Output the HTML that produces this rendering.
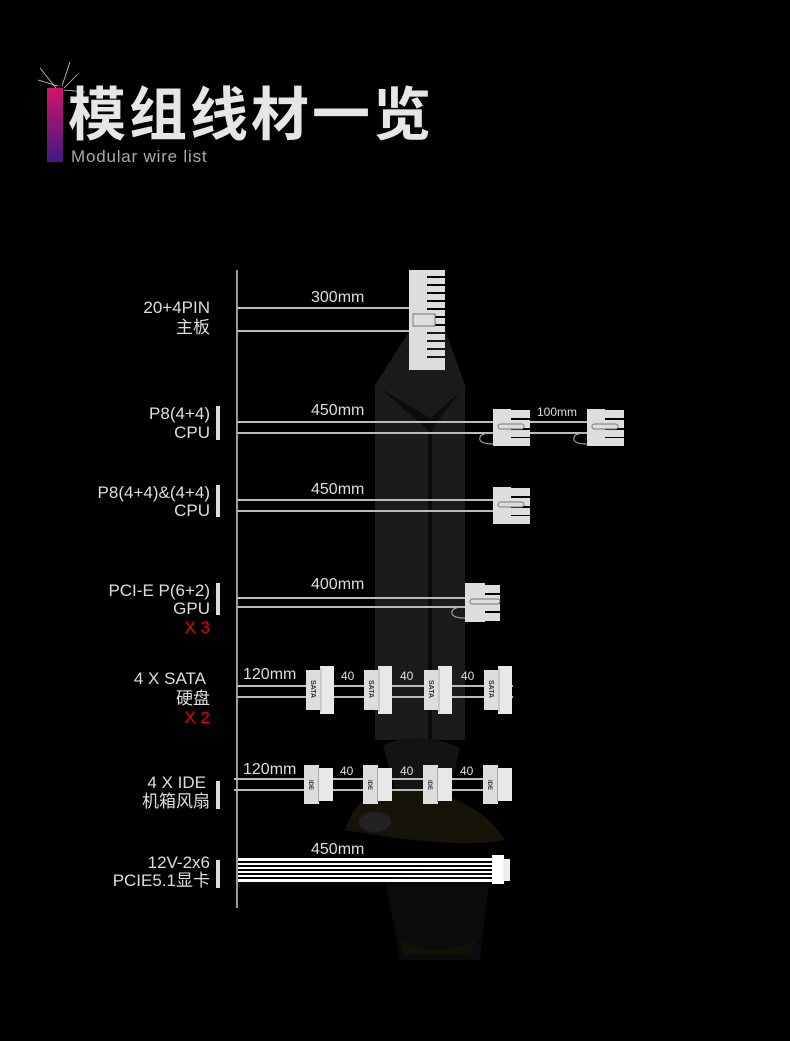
<!DOCTYPE html>
<html><head><meta charset="utf-8"><style>
body{margin:0;background:#000;}
svg{display:block}
text{font-family:"Liberation Sans","Noto Sans CJK SC",sans-serif;}
</style></head><body>
<svg width="790" height="1041" viewBox="0 0 790 1041" xmlns="http://www.w3.org/2000/svg">
<defs>
<linearGradient id="g" x1="0" y1="0" x2="0" y2="1"><stop offset="0" stop-color="#d0146c"/><stop offset="1" stop-color="#3f1a80"/></linearGradient>
<g id="sata"><rect x="0" y="4" width="16" height="40" fill="#ddd"/><rect x="14" y="0" width="14" height="48" fill="#e8e8e8"/><line x1="15" y1="2" x2="15" y2="46" stroke="#aaa"/><text x="0" y="0" font-size="7" font-weight="bold" fill="#333" transform="translate(5,14) rotate(90)">SATA</text></g>
<g id="ide"><rect x="0" y="0" width="15" height="39" fill="#ddd"/><rect x="14" y="3" width="15" height="33" fill="#e8e8e8"/><line x1="14.5" y1="2" x2="14.5" y2="37" stroke="#aaa"/><text x="0" y="0" font-size="6" font-weight="bold" fill="#333" transform="translate(5,15) rotate(90)">IDE</text></g>
<g id="cpu"><rect x="0" y="0" width="18" height="37" fill="#ddd"/><rect x="18" y="1" width="19" height="8" fill="#ddd"/><rect x="18" y="11" width="19" height="8" fill="#ddd"/><rect x="18" y="21" width="19" height="7" fill="#ddd"/><rect x="18" y="29" width="19" height="8" fill="#ddd"/><rect x="5" y="15" width="26" height="5" rx="2.5" fill="#ddd" stroke="#777"/></g>
</defs>
<!-- background silhouette -->
<polygon points="375,385 410,330 445,330 465,385 465,740 375,740" fill="#1b1b1b"/>
<polygon points="380,388 430,418 460,392 430,432" fill="#0c0c0c"/>
<rect x="428" y="430" width="4" height="310" fill="#0a0a0a"/>
<path d="M383,745 Q420,730 460,748 L450,790 L395,790 Z" fill="#131313"/>
<path d="M345,830 Q360,780 420,790 Q480,800 505,840 Q460,850 345,830Z" fill="#161409"/>
<ellipse cx="375" cy="822" rx="16" ry="10" fill="#222"/>
<path d="M385,880 Q430,860 490,875 L480,960 L400,960 Z" fill="#0b0b0b"/>
<path d="M400,940 Q440,960 475,940 L470,955 L405,955 Z" fill="#141208"/>

<!-- header -->
<rect x="47" y="88" width="16" height="74" fill="url(#g)"/>
<g stroke="#ccc" stroke-width="0.8" fill="none"><path d="M56,88 L40,68 M58,86 L38,80 M62,86 L70,62 M64,88 L78,74 M64,90 L85,92"/></g>
<text x="68" y="135" font-size="58" font-weight="bold" fill="#e6e6e6" letter-spacing="3">模组线材一览</text>
<text x="71" y="162" font-size="17" fill="#aaa" letter-spacing="0.8">Modular wire list</text>

<!-- vertical line -->
<line x1="237" y1="270" x2="237" y2="908" stroke="#999" stroke-width="2"/>

<g font-size="17" fill="#ddd" text-anchor="end">
<text x="210" y="313">20+4PIN</text><text x="210" y="333">主板</text>
<text x="210" y="419">P8(4+4)</text><text x="210" y="438">CPU</text>
<text x="210" y="498">P8(4+4)&amp;(4+4)</text><text x="210" y="516">CPU</text>
<text x="210" y="596">PCI-E P(6+2)</text><text x="210" y="614">GPU</text>
<text x="210" y="633" fill="#e00">X 3</text>
<text x="206" y="684">4 X SATA</text><text x="210" y="704">硬盘</text>
<text x="210" y="723" fill="#e00">X 2</text>
<text x="206" y="788">4 X IDE</text><text x="210" y="807">机箱风扇</text>
<text x="210" y="868">12V-2x6</text><text x="210" y="886">PCIE5.1显卡</text>
</g>
<g fill="#ddd">
<rect x="216" y="406" width="4" height="34"/><rect x="216" y="485" width="4" height="32"/>
<rect x="216" y="583" width="4" height="32"/><rect x="216" y="781" width="4" height="28"/>
<rect x="216" y="860" width="4" height="28"/>
</g>

<g stroke="#bbb" stroke-width="2">
<line x1="237" y1="308" x2="409" y2="308"/><line x1="237" y1="331" x2="409" y2="331"/>
<line x1="237" y1="422" x2="493" y2="422"/><line x1="237" y1="433" x2="493" y2="433"/>
<line x1="530" y1="422" x2="587" y2="422"/><line x1="530" y1="433" x2="587" y2="433"/>
<line x1="237" y1="500" x2="493" y2="500"/><line x1="237" y1="511" x2="493" y2="511"/>
<line x1="237" y1="598" x2="465" y2="598"/><line x1="237" y1="607" x2="465" y2="607"/>
<line x1="237" y1="686" x2="513" y2="686"/><line x1="237" y1="697" x2="513" y2="697"/>
<line x1="234" y1="779" x2="510" y2="779"/><line x1="234" y1="790" x2="510" y2="790"/>
</g>
<g fill="none" stroke="#aaa" stroke-width="1"><path d="M493,433 Q478,433 480,440 Q482,444 493,444"/><path d="M587,433 Q572,433 574,440 Q576,444 587,444"/><path d="M465,607 Q450,607 452,614 Q454,618 465,618"/></g>

<!-- 24pin -->
<rect x="409" y="270" width="18" height="100" fill="#ddd"/>
<g fill="#ddd"><rect x="427" y="270" width="18" height="6"/><rect x="427" y="278" width="18" height="6"/><rect x="427" y="286" width="18" height="6"/><rect x="427" y="294" width="18" height="6"/><rect x="427" y="302" width="18" height="6"/><rect x="427" y="310" width="18" height="6"/><rect x="427" y="318" width="18" height="6"/><rect x="427" y="326" width="18" height="6"/><rect x="427" y="334" width="18" height="6"/><rect x="427" y="342" width="18" height="6"/><rect x="427" y="350" width="18" height="6"/><rect x="427" y="358" width="18" height="6"/><rect x="427" y="364" width="18" height="6"/></g>
<rect x="413" y="314" width="22" height="12" fill="#ddd" stroke="#777"/>

<use href="#cpu" x="493" y="409"/><use href="#cpu" x="587" y="409"/>
<use href="#cpu" x="493" y="487"/>
<g><rect x="465" y="583" width="20" height="39" fill="#ddd"/><rect x="485" y="585" width="15" height="8" fill="#ddd"/><rect x="485" y="595" width="15" height="8" fill="#ddd"/><rect x="485" y="604" width="15" height="7" fill="#ddd"/><rect x="485" y="613" width="15" height="8" fill="#ddd"/><rect x="470" y="599" width="30" height="5" rx="2.5" fill="#ddd" stroke="#777"/></g>

<use href="#sata" x="306" y="666"/><use href="#sata" x="364" y="666"/><use href="#sata" x="424" y="666"/><use href="#sata" x="484" y="666"/>
<use href="#ide" x="304" y="765"/><use href="#ide" x="363" y="765"/><use href="#ide" x="423" y="765"/><use href="#ide" x="483" y="765"/>

<!-- 12v -->
<g fill="#fff"><rect x="238" y="858" width="256" height="3"/><rect x="238" y="863" width="256" height="2"/><rect x="238" y="867" width="256" height="2"/><rect x="238" y="871" width="256" height="2"/><rect x="238" y="875" width="256" height="2"/><rect x="238" y="879" width="256" height="3"/></g>
<rect x="492" y="855" width="12" height="29" fill="#fff"/><rect x="503" y="859" width="7" height="22" fill="#eee"/>

<g font-size="16" fill="#ddd">
<text x="311" y="302">300mm</text><text x="311" y="415">450mm</text><text x="537" y="416" font-size="12">100mm</text>
<text x="311" y="494">450mm</text><text x="311" y="589">400mm</text>
<text x="243" y="679">120mm</text><text x="341" y="680" font-size="12">40</text><text x="400" y="680" font-size="12">40</text><text x="461" y="680" font-size="12">40</text>
<text x="243" y="774">120mm</text><text x="340" y="775" font-size="12">40</text><text x="400" y="775" font-size="12">40</text><text x="460" y="775" font-size="12">40</text>
<text x="311" y="854">450mm</text>
</g>
</svg>
</body></html>
